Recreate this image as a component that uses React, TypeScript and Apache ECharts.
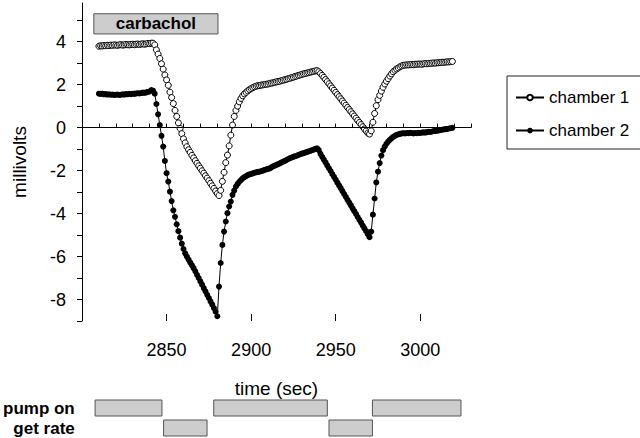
import React, { useEffect, useRef } from "react";
import * as echarts from "echarts";

// time grid: one sample per second starting at T0
const T0 = 2810;

const chamber1 = [
  3.79, 3.81, 3.80, 3.82, 3.81, 3.83, 3.82, 3.84, 3.83, 3.85,
  3.84, 3.83, 3.85, 3.86, 3.84, 3.85, 3.87, 3.86, 3.85, 3.87,
  3.88, 3.86, 3.88, 3.89, 3.87, 3.89, 3.90, 3.88, 3.90, 3.92,
  3.91, 3.93, 3.93, 3.85, 3.62, 3.42, 3.22, 2.97, 2.72, 2.45,
  2.22, 1.97, 1.65, 1.40, 1.12, 0.80, 0.52, 0.22, -0.04, -0.28,
  -0.52, -0.71, -0.89, -1.03, -1.15, -1.29, -1.41, -1.54, -1.66, -1.78,
  -1.89, -2.01, -2.12, -2.24, -2.35, -2.47, -2.59, -2.71, -2.83, -2.95,
  -3.07, -3.16, -2.92, -2.50, -2.08, -1.63, -1.28, -0.85, -0.35, 0.12,
  0.52, 0.80, 1.00, 1.20, 1.36, 1.48, 1.57, 1.64, 1.71, 1.77,
  1.82, 1.86, 1.90, 1.93, 1.95, 1.96, 1.98, 1.99, 2.01, 2.02,
  2.03, 2.06, 2.07, 2.09, 2.11, 2.13, 2.15, 2.16, 2.19, 2.21,
  2.23, 2.25, 2.28, 2.30, 2.33, 2.35, 2.38, 2.40, 2.43, 2.45,
  2.48, 2.50, 2.52, 2.54, 2.56, 2.58, 2.60, 2.62, 2.64, 2.65,
  2.60, 2.52, 2.43, 2.34, 2.24, 2.14, 2.04, 1.94, 1.84, 1.74,
  1.64, 1.54, 1.44, 1.34, 1.24, 1.14, 1.04, 0.94, 0.84, 0.74,
  0.64, 0.54, 0.44, 0.34, 0.24, 0.14, 0.04, -0.06, -0.16, -0.25,
  -0.30, -0.15, 0.25, 0.66, 1.02, 1.30, 1.50, 1.70, 1.88, 2.03,
  2.16, 2.28, 2.40, 2.50, 2.60, 2.67, 2.73, 2.78, 2.83, 2.87,
  2.90, 2.91, 2.92, 2.92, 2.93, 2.94, 2.93, 2.95, 2.95, 2.96,
  2.96, 2.95, 2.97, 2.98, 2.97, 2.99, 2.99, 3.00, 3.01, 3.00,
  3.02, 3.02, 3.03, 3.04, 3.04, 3.05, 3.06, 3.06, 3.07, 3.08,
];

const chamber2 = [
  1.58, 1.57, 1.58, 1.55, 1.56, 1.54, 1.55, 1.53, 1.54, 1.52,
  1.53, 1.54, 1.52, 1.53, 1.55, 1.54, 1.56, 1.55, 1.57, 1.56,
  1.58, 1.57, 1.59, 1.60, 1.59, 1.61, 1.63, 1.62, 1.64, 1.66,
  1.68, 1.75, 1.72, 1.58, 1.10, 0.62, 0.12, -0.38, -0.88, -1.55,
  -2.12, -2.51, -2.98, -3.42, -3.85, -4.15, -4.50, -4.82, -5.12, -5.40,
  -5.65, -5.85, -6.00, -6.14, -6.28, -6.41, -6.54, -6.69, -6.85, -7.00,
  -7.16, -7.31, -7.47, -7.62, -7.78, -7.93, -8.09, -8.24, -8.40, -8.57,
  -8.78, -7.40, -6.30, -5.46, -4.84, -4.37, -3.98, -3.67, -3.44, -3.13,
  -2.93, -2.74, -2.62, -2.52, -2.44, -2.36, -2.30, -2.26, -2.21, -2.18,
  -2.15, -2.13, -2.10, -2.08, -2.06, -2.05, -2.02, -2.00, -1.97, -1.94,
  -1.92, -1.90, -1.85, -1.80, -1.77, -1.73, -1.70, -1.66, -1.62, -1.58,
  -1.55, -1.50, -1.46, -1.42, -1.39, -1.36, -1.33, -1.31, -1.27, -1.24,
  -1.21, -1.19, -1.16, -1.13, -1.11, -1.08, -1.05, -1.02, -0.99, -0.96,
  -1.05, -1.22, -1.36, -1.49, -1.62, -1.76, -1.89, -2.02, -2.16, -2.29,
  -2.42, -2.56, -2.69, -2.82, -2.96, -3.09, -3.22, -3.36, -3.49, -3.62,
  -3.76, -3.89, -4.02, -4.16, -4.29, -4.42, -4.56, -4.69, -4.82, -4.96,
  -5.10, -4.84, -4.05, -3.30, -2.55, -2.05, -1.65, -1.30, -1.05, -0.88,
  -0.75, -0.65, -0.57, -0.50, -0.43, -0.38, -0.34, -0.31, -0.29, -0.27,
  -0.26, -0.27, -0.25, -0.26, -0.24, -0.25, -0.27, -0.25, -0.26, -0.24,
  -0.25, -0.23, -0.22, -0.23, -0.21, -0.19, -0.20, -0.18, -0.16, -0.15,
  -0.14, -0.13, -0.11, -0.10, -0.08, -0.07, -0.06, -0.04, -0.03, -0.01,
];

const xMin = 2800;
const xMax = 3030;
const xLabelValues = [2850, 2900, 2950, 3000];
const xMinorTicks = [2810, 2820, 2830, 2840, 2850, 2860, 2870, 2880, 2890, 2900, 2910, 2920, 2930, 2940, 2950, 2960, 2970, 2980, 2990, 3000, 3010, 3020, 3030];
const yMin = -9;
const yMax = 5.8;
const yTicks = [-9, -8, -7, -6, -5, -4, -3, -2, -1, 0, 1, 2, 3, 4, 5];
const yLabelValues = [-8, -6, -4, -2, 0, 2, 4];

const carbachol = { start: 2807, end: 2880.4, low: 4.36, high: 5.3 };

const protocolRows = ["pump on", "get rate"];
// [row index, start time, end time]
const protocolBars = [
  [0, 2805, 2845],
  [1, 2846, 2872],
  [0, 2876, 2944],
  [1, 2945, 2971],
  [0, 2971, 3024],
];

const FONT = "'Liberation Sans', Arial, Helvetica, sans-serif";

export default function App() {
  const ref = useRef<HTMLDivElement>(null);

  useEffect(() => {
    document.body.style.margin = "0";
    const chart = echarts.init(ref.current!, null, { renderer: "svg" });
    const s1 = chamber1.map((v, i) => [T0 + i, v]);
    const s2 = chamber2.map((v, i) => [T0 + i, v]);

    chart.setOption({
      animation: false,
      backgroundColor: "#ffffff",
      textStyle: { fontFamily: FONT, color: "#000" },
      grid: [
        { left: 82, top: 3, width: 389, height: 318 },
        { left: 82, top: 398, width: 389, height: 40 },
      ],
      legend: {
        data: ["chamber 1", "chamber 2"],
        orient: "vertical",
        left: 507,
        top: 76,
        itemWidth: 28,
        itemHeight: 7,
        itemGap: 16,
        itemTextGap: 8,
        padding: [13, 17, 10, 8],
        borderColor: "#222",
        borderWidth: 1,
        textStyle: { fontSize: 17, color: "#000", fontFamily: FONT },
      },
      xAxis: [
        {
          type: "value",
          gridIndex: 0,
          min: xMin,
          max: xMax,
          position: "bottom",
          name: "time (sec)",
          nameLocation: "middle",
          nameGap: 58,
          nameTextStyle: { fontSize: 19, color: "#000", fontFamily: FONT },
          axisLine: { show: true, lineStyle: { color: "#000", width: 1 } },
          axisTick: { show: true, inside: true, length: 4, customValues: xMinorTicks, lineStyle: { color: "#000" } },
          axisLabel: {
            show: true,
            customValues: xLabelValues,
            formatter: (v: number) => String(v),
            fontSize: 18,
            color: "#000",
            margin: 20,
            fontFamily: FONT,
          },
          splitLine: { show: false },
        },
        {
          type: "value",
          gridIndex: 0,
          min: xMin,
          max: xMax,
          position: "bottom",
          axisLine: { show: false },
          axisTick: { show: true, inside: true, length: 7, customValues: xLabelValues, lineStyle: { color: "#000" } },
          axisLabel: { show: false },
          splitLine: { show: false },
        },
        {
          type: "value",
          gridIndex: 1,
          min: xMin,
          max: xMax,
          show: false,
        },
      ],
      yAxis: [
        {
          type: "value",
          gridIndex: 0,
          min: yMin,
          max: yMax,
          name: "millivolts",
          nameLocation: "middle",
          nameGap: 53,
          nameTextStyle: { fontSize: 19, color: "#000", fontFamily: FONT },
          axisLine: { show: true, lineStyle: { color: "#000", width: 1 } },
          axisTick: { show: true, inside: false, length: 5, customValues: yTicks, lineStyle: { color: "#000" } },
          axisLabel: { show: true, customValues: yLabelValues, fontSize: 18, color: "#000", margin: 16, fontFamily: FONT },
          splitLine: { show: false },
        },
        {
          type: "category",
          gridIndex: 1,
          data: protocolRows,
          inverse: true,
          axisLine: { show: false },
          axisTick: { show: false },
          axisLabel: { interval: 0, fontSize: 17, fontWeight: "bold", color: "#000", margin: 12, fontFamily: FONT },
          splitLine: { show: false },
        },
      ],
      series: [
        {
          name: "chamber 2",
          type: "line",
          xAxisIndex: 0,
          yAxisIndex: 0,
          data: s2,
          symbol: "circle",
          symbolSize: 6,
          showSymbol: true,
          lineStyle: { color: "#000", width: 1 },
          itemStyle: { color: "#000", borderColor: "#000", borderWidth: 0 },
          emphasis: { disabled: true },
          markLine: {
            silent: true,
            symbol: ["none", "none"],
            label: { show: false },
            lineStyle: { color: "#000", width: 1, type: "solid" },
            data: [{ yAxis: 0 }],
          },
          z: 3,
        },
        {
          name: "chamber 1",
          type: "line",
          xAxisIndex: 0,
          yAxisIndex: 0,
          data: s1,
          symbol: "circle",
          symbolSize: 6,
          showSymbol: true,
          lineStyle: { color: "#000", width: 1 },
          itemStyle: { color: "#fff", borderColor: "#000", borderWidth: 1 },
          emphasis: { disabled: true },
          markArea: {
            silent: true,
            itemStyle: { color: "#cdcdcd", borderColor: "#555", borderWidth: 1 },
            label: {
              show: true,
              position: "inside",
              fontSize: 17,
              fontWeight: "bold",
              color: "#000",
              fontFamily: FONT,
            },
            data: [
              [
                { name: "carbachol", xAxis: carbachol.start, yAxis: carbachol.high },
                { xAxis: carbachol.end, yAxis: carbachol.low },
              ],
            ],
          },
          z: 4,
        },
        {
          type: "custom",
          xAxisIndex: 2,
          yAxisIndex: 1,
          silent: true,
          encode: { x: [1, 2], y: 0 },
          data: protocolBars,
          renderItem: (params: any, api: any) => {
            const row = api.value(0);
            const p0 = api.coord([api.value(1), row]);
            const p1 = api.coord([api.value(2), row]);
            const h = api.size([0, 1])[1] * 0.8;
            return {
              type: "rect",
              shape: { x: p0[0], y: p0[1] - h / 2, width: p1[0] - p0[0], height: h },
              style: { fill: "#cdcdcd", stroke: "#555", lineWidth: 1 },
            };
          },
        },
      ],
    });
    return () => chart.dispose();
  }, []);

  return (
    <div
      ref={ref}
      style={{ position: "fixed", left: 0, top: 0, width: 640, height: 438, background: "#fff" }}
    />
  );
}
